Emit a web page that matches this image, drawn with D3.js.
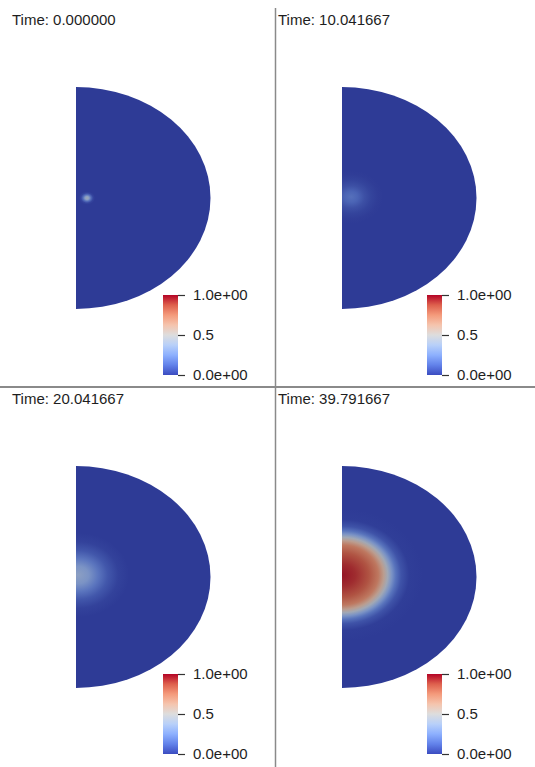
<!DOCTYPE html>
<html>
<head>
<meta charset="utf-8">
<script src="https://cdn.jsdelivr.net/npm/d3@7"></script>
<style>
  body { margin: 0; background: #fff; }
  svg { display: block; font-family: "Liberation Sans", Arial, sans-serif; }
</style>
</head>
<body>
<svg id="chart" width="535" height="767"></svg>
<script>
// Time labels, one per view.
var times = ['0.000000', '10.041667', '20.041667', '39.791667'];

// Blob centres in disk coordinates (x: 0 = flat edge, 1 = rim; y: -1..1).
var centerX = [0.082, 0.067, 0.015, 0.0];
var centerY = [0.0, 0.01, 0.018, 0.018];

// Radial profiles of the field: normalised radius and value.
var profileR = [
  [0, 0.015, 0.03, 0.045, 0.06],
  [0, 0.05, 0.1, 0.15, 0.2, 0.24],
  [0, 0.08, 0.15, 0.22, 0.3, 0.38],
  [0, 0.1, 0.2, 0.27, 0.31, 0.34, 0.37, 0.4, 0.44, 0.5, 0.6]
];
var profileU = [
  [0.45, 0.35, 0.15, 0.03, 0],
  [0.16, 0.12, 0.06, 0.025, 0.005, 0],
  [0.36, 0.3, 0.18, 0.08, 0.02, 0],
  [0.97, 0.93, 0.85, 0.75, 0.6, 0.45, 0.3, 0.17, 0.07, 0.01, 0]
];

// Cool to Warm colour map.
var cmapPos = [0, 0.125, 0.25, 0.375, 0.5, 0.625, 0.75, 0.875, 1];
var cmapCol = ['rgb(59,76,192)', 'rgb(98,130,234)', 'rgb(141,176,254)', 'rgb(184,208,249)',
  'rgb(221,221,221)', 'rgb(245,196,173)', 'rgb(244,154,123)', 'rgb(222,96,77)', 'rgb(180,4,38)'];

// Colour bar ticks.
var barTicks = [0, 0.5, 1];
var barLabels = ['0.0e+00', '0.5', '1.0e+00'];

var svg = d3.select('#chart');
var defs = svg.append('defs');

var cmap = d3.scaleLinear().domain(cmapPos).range(cmapCol).interpolate(d3.interpolateRgb);
var shade = 0.78;
var lit = function(u) {
  var c = d3.rgb(cmap(u));
  return d3.rgb(c.r * shade, c.g * shade, c.b * shade).formatHex();
};

var views = [
  {dx: 0, dy: 0, bx: 0},
  {dx: 266, dy: 0, bx: 264},
  {dx: 0, dy: 379, bx: 0},
  {dx: 266, dy: 379, bx: 264}
];

views.forEach(function(v, i) {
  var g = svg.append('g').attr('transform', 'translate(' + v.dx + ',' + v.dy + ')');

  // Disk coordinates -> pixels.
  var x = d3.scaleLinear().domain([0, 1]).range([76, 210.5]);
  var y = d3.scaleLinear().domain([-1, 1]).range([309, 87]);
  var rx = x(1) - x(0), ry = y(-1) - y(1);

  var halfDisk = 'M' + x(0) + ',' + y(1)
    + 'A' + rx + ',' + (ry / 2) + ' 0 0 1 ' + x(0) + ',' + y(-1) + 'Z';

  defs.append('clipPath').attr('id', 'clip' + i)
    .append('path').attr('d', halfDisk);

  g.append('path')
    .attr('d', halfDisk)
    .attr('fill', lit(0));

  // Field as an elliptical radial gradient.
  var rr = profileR[i], uu = profileU[i];
  var rmax = rr[rr.length - 1];
  var grad = defs.append('radialGradient').attr('id', 'field' + i);
  grad.selectAll('stop')
    .data(rr)
    .enter()
      .append('stop')
        .attr('offset', function(d) { return d / rmax; })
        .attr('stop-color', function(d, j) { return lit(uu[j]); });

  g.append('ellipse')
    .attr('clip-path', 'url(#clip' + i + ')')
    .attr('cx', x(centerX[i]))
    .attr('cy', y(centerY[i]))
    .attr('rx', rmax * rx)
    .attr('ry', rmax * ry / 2)
    .attr('fill', 'url(#field' + i + ')');

  // Title.
  g.append('text')
    .attr('x', 12)
    .attr('y', 25)
    .attr('font-size', 15)
    .attr('fill', '#1e1e1e')
    .text('Time: ' + times[i]);

  // Colour bar.
  var cb = svg.append('g').attr('transform', 'translate(' + v.bx + ',' + v.dy + ')');
  var by = d3.scaleLinear().domain([0, 1]).range([375, 295]);
  var barGrad = defs.append('linearGradient').attr('id', 'bar' + i)
    .attr('x1', 0).attr('y1', 1).attr('x2', 0).attr('y2', 0);
  barGrad.selectAll('stop')
    .data(cmapPos)
    .enter()
      .append('stop')
        .attr('offset', function(d) { return d; })
        .attr('stop-color', function(d, j) { return cmapCol[j]; });

  cb.append('rect')
    .attr('x', 163)
    .attr('y', by(1))
    .attr('width', 15)
    .attr('height', by(0) - by(1))
    .attr('fill', 'url(#bar' + i + ')');

  var axis = cb.append('g')
    .attr('transform', 'translate(178,0)')
    .call(d3.axisRight(by)
      .tickValues(barTicks)
      .tickSize(7)
      .tickPadding(8)
      .tickFormat(function(d) { return barLabels[barTicks.indexOf(d)]; }));
  axis.select('.domain').remove();
  axis.selectAll('line').attr('stroke', '#333').attr('stroke-width', 1.2);
  axis.selectAll('text')
    .attr('font-size', 15)
    .attr('font-family', '"Liberation Sans", Arial, sans-serif')
    .attr('fill', '#1e1e1e');
});

// View separators.
svg.append('line')
  .attr('x1', 0).attr('x2', 535).attr('y1', 387).attr('y2', 387)
  .attr('stroke', '#8a8a8a').attr('stroke-width', 2);
svg.append('line')
  .attr('x1', 275.5).attr('x2', 275.5).attr('y1', 8).attr('y2', 767)
  .attr('stroke', '#8a8a8a').attr('stroke-width', 1.5);
</script>
</body>
</html>
